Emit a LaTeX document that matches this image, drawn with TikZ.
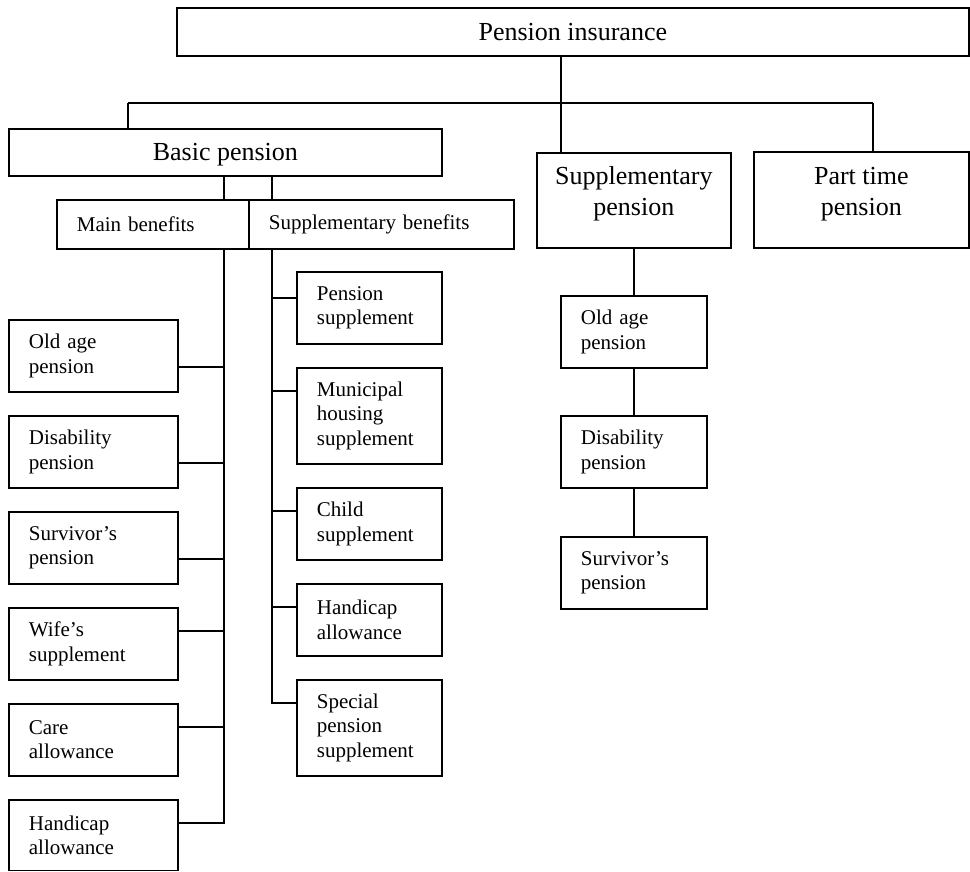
\documentclass[tikz,border=0pt]{standalone}
\usepackage{fontspec}
\setmainfont{Liberation Serif}
\tikzset{
  bx/.style={draw, line width=1.7pt, rectangle, inner sep=0pt, anchor=north west},
  bigbox/.style={bx, align=center, font=\fontsize{26}{31}\selectfont},
  onel/.style={text depth=0pt},
  twol/.style={text height=51pt, text depth=20pt},
  smallbox/.style={bx, inner xsep=20pt, align=left, font=\fontsize{21}{24.5}\selectfont},
  conn/.style={line width=1.7pt},
}
\begin{document}
\begin{tikzpicture}[x=1pt,y=-1pt]
\useasboundingbox (0,0) rectangle (970,871);
% top level
\node[bigbox, onel, minimum width=792pt, minimum height=48pt] (top) at (176,7) {Pension insurance};
\node[bigbox, onel, minimum width=433pt, minimum height=47pt] (bp) at (8,128) {Basic pension};
\node[bigbox, twol, minimum width=194pt, minimum height=95pt] (sp) at (536,152) {Supplementary\\pension};
\node[bigbox, twol, minimum width=215pt, minimum height=96pt] (pt) at (753,151) {Part time\\pension};
% benefits row
\node[smallbox, text width=152pt, minimum height=49pt] (mb) at (56,199) {Main benefits};
\node[smallbox, text width=225pt, minimum height=49pt] (sb) at (248,199) {Supplementary benefits};
% left column
\node[smallbox, text width=129pt, minimum height=72pt] (oa) at (8,319) {Old age\\pension};
\node[smallbox, text width=129pt, minimum height=72pt] (dp) at (8,415) {Disability\\pension};
\node[smallbox, text width=129pt, minimum height=72pt] (sv) at (8,511) {Survivor’s\\pension};
\node[smallbox, text width=129pt, minimum height=72pt] (ws) at (8,607) {Wife’s\\supplement};
\node[smallbox, text width=129pt, minimum height=72pt] (ca) at (8,703) {Care\\allowance};
\node[smallbox, text width=129pt, minimum height=70.5pt] (ha) at (8,799) {Handicap\\allowance};
% right column of basic
\node[smallbox, text width=105pt, minimum height=72pt] (ps) at (296,271) {Pension\\supplement};
\node[smallbox, text width=105pt, minimum height=96pt] (mh) at (296,367) {Municipal\\housing\\supplement};
\node[smallbox, text width=105pt, minimum height=72pt] (cs) at (296,487) {Child\\supplement};
\node[smallbox, text width=105pt, minimum height=72pt] (hb) at (296,583) {Handicap\\allowance};
\node[smallbox, text width=105pt, minimum height=96pt] (sps) at (296,679) {Special\\pension\\supplement};
% supplementary pension column
\node[smallbox, text width=106pt, minimum height=72pt] (so) at (560,295) {Old age\\pension};
\node[smallbox, text width=106pt, minimum height=72pt] (sd) at (560,415) {Disability\\pension};
\node[smallbox, text width=106pt, minimum height=72pt] (ss) at (560,536) {Survivor’s\\pension};
% junction coordinates
\coordinate (hl) at (128,103);
\coordinate (hr) at (873,103);
\coordinate (hm) at (561,103);
\coordinate (va) at (224,0);
\coordinate (vb) at (272,0);
% top connectors
\draw[conn] (hl) -- (hr);
\draw[conn] (top.south -| hm) -- (sp.north -| hm);
\draw[conn] (hl) -- (bp.north -| hl);
\draw[conn] (hr) -- (pt.north -| hr);
% basic to benefits
\draw[conn] (bp.south -| va) -- (mb.north -| va);
\draw[conn] (bp.south -| vb) -- (sb.north -| vb);
% left spine
\coordinate (c1) at ([yshift=-48pt]oa.north east);
\coordinate (c2) at ([yshift=-48pt]dp.north east);
\coordinate (c3) at ([yshift=-48pt]sv.north east);
\coordinate (c4) at ([yshift=-24pt]ws.north east);
\coordinate (c5) at ([yshift=-24pt]ca.north east);
\coordinate (c6) at ([yshift=-24pt]ha.north east);
\draw[conn] (mb.south -| va) |- (c6);
\foreach \c in {c1,c2,c3,c4,c5} \draw[conn] (\c) -- (\c -| va);
% right spine
\coordinate (d1) at ([yshift=-27pt]ps.north west);
\coordinate (d2) at ([yshift=-24pt]mh.north west);
\coordinate (d3) at ([yshift=-24pt]cs.north west);
\coordinate (d4) at ([yshift=-24pt]hb.north west);
\coordinate (d5) at ([yshift=-24pt]sps.north west);
\draw[conn] (sb.south -| vb) |- (d5);
\foreach \d in {d1,d2,d3,d4} \draw[conn] (\d -| vb) -- (\d);
% supplementary pension column
\draw[conn] (sp.south) -- (so.north);
\draw[conn] (so.south) -- (sd.north);
\draw[conn] (sd.south) -- (ss.north);
\end{tikzpicture}
\end{document}
